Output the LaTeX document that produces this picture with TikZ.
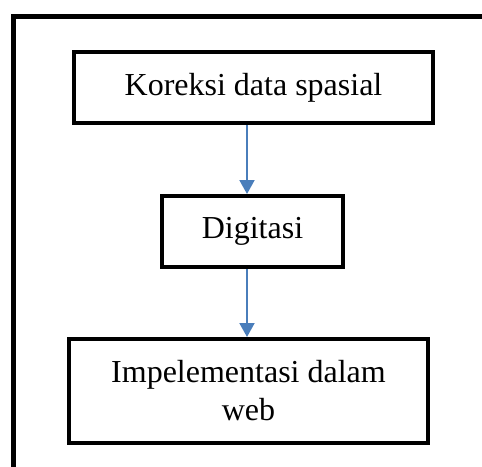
\documentclass[tikz,border=0pt]{standalone}
\usepackage{fontspec}
\setmainfont{Liberation Serif}
\usetikzlibrary{arrows.meta,positioning}
\definecolor{flowblue}{RGB}{74,126,187}

\begin{document}
\begin{tikzpicture}[x=1pt,y=-1pt,
    stepbox/.style={draw,line width=4pt,align=center,inner sep=0pt,font=\fontsize{32}{38}\selectfont},
    flow/.style={-{Triangle[length=14pt,width=15pt]},draw=flowblue,fill=flowblue,line width=2pt}]
    \useasboundingbox (0,0) rectangle (482,466);
    \clip (0,0) rectangle (482,466);

    % outer frame, only top and left edge are visible
    \node[draw,line width=5pt,minimum width=600pt,minimum height=600pt,inner sep=0pt,anchor=north west] (frame) at (11,14) {};

    \node[stepbox,minimum width=359pt,minimum height=71pt] (koreksi) at (253.5,87.5) {\raisebox{-3pt}{Koreksi data spasial}};
    \node[stepbox,minimum width=181pt,minimum height=71pt] (digitasi) at (252.5,231.5) {\raisebox{-3pt}{Digitasi}};
    \node[stepbox,minimum width=359pt,minimum height=104pt] (web) at (248.5,391) {Impelementasi dalam\\web};

    \draw[flow] ([xshift=-6.5pt]koreksi.south) -- ([xshift=-5.5pt]digitasi.north);
    \draw[flow] ([xshift=-5.5pt]digitasi.south) -- ([xshift=-1.5pt]web.north);
\end{tikzpicture}
\end{document}
